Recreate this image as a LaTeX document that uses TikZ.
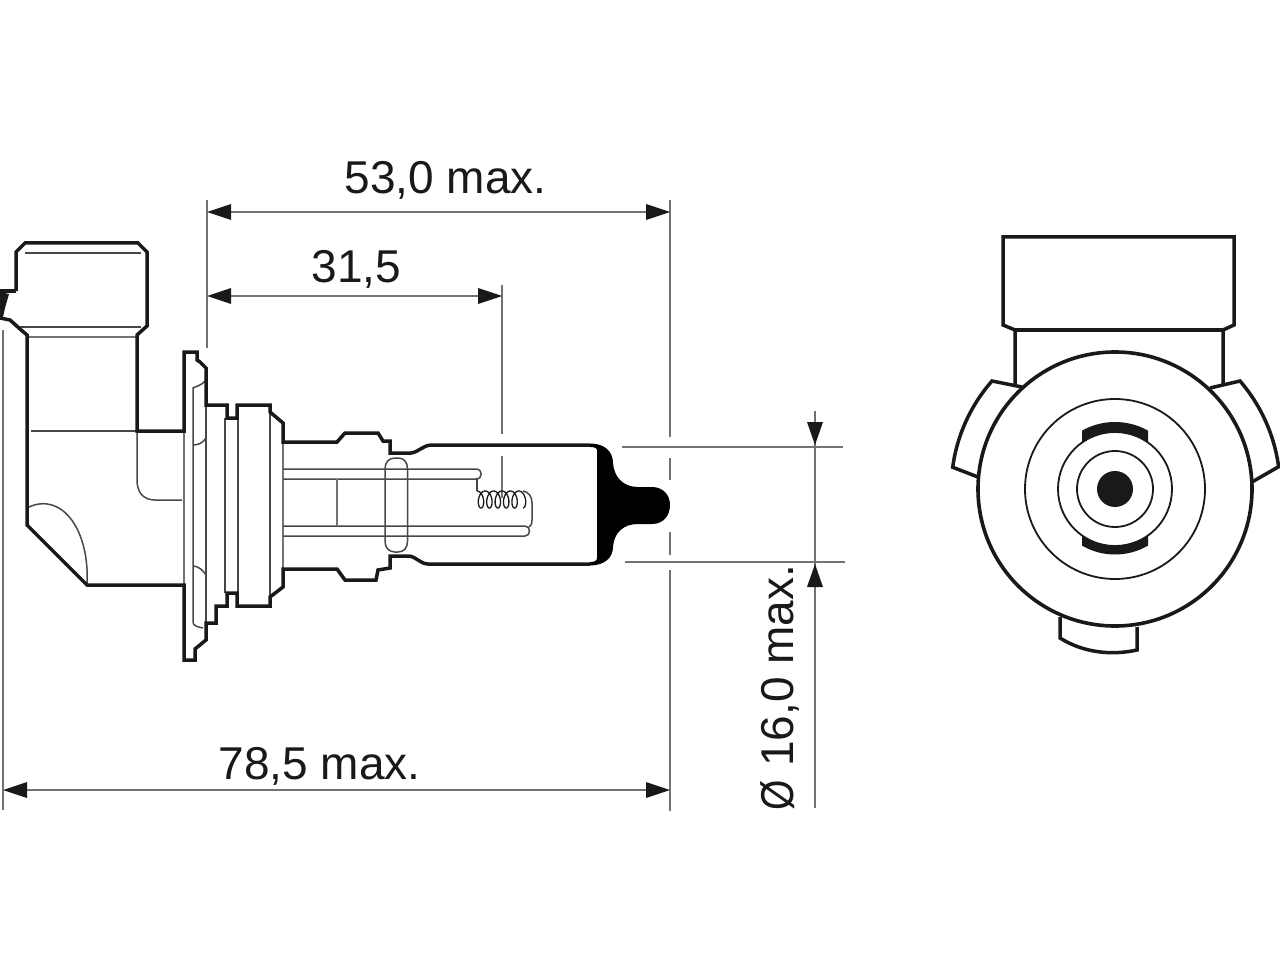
\documentclass[tikz,border=0pt]{standalone}
\usepackage{fontspec}
\usepackage{graphicx}
\setmainfont{Liberation Sans}
\definecolor{dimc}{gray}{0.45}
\definecolor{ink}{gray}{0.1}
\tikzset{
  outl/.style={draw=ink,line width=3.5pt,line join=miter,line cap=butt},
  fine/.style={draw=ink!80!white,line width=1.5pt},
  faint/.style={draw=dimc,line width=1.6pt},
  dimline/.style={draw=dimc,line width=1.8pt},
  lbl/.style={text=ink,font=\fontsize{46pt}{47pt}\selectfont,inner sep=0pt,anchor=base},
  tip/.style={fill=ink,draw=none}
}
\begin{document}
\begin{tikzpicture}[x=1pt,y=-1pt]
\useasboundingbox (0,0) rectangle (1280,960);
\fill[white] (0,0) rectangle (1280,960);
% dimension lines
\coordinate (ext0t) at (3,330); \coordinate (ext0b) at (3,810);
\draw[dimline] (ext0t) -- (ext0b);
\draw[dimline] (207,200) -- (207,348);
\draw[dimline] (670,200) -- (670,437);
\draw[dimline] (670,458) -- (670,480);
\draw[dimline] (670,532) -- (670,555);
\draw[dimline] (670,570) -- (670,811);
\draw[dimline] (502,285) -- (502,434);
\draw[dimline] (502,456) -- (502,498);
\draw[dimline] (230,212) -- (647,212);
\draw[dimline] (230,296) -- (480,296);
\draw[dimline] (26,790) -- (647,790);
\draw[dimline] (622,447) -- (843,447);
\draw[dimline] (625,562) -- (845,562);
\draw[dimline] (815,411) -- (815,808);
% arrowheads
\fill[tip] (207,212) -- (231,204) -- (231,220) -- cycle;
\fill[tip] (670,212) -- (646,204) -- (646,220) -- cycle;
\fill[tip] (207,296) -- (231,288) -- (231,304) -- cycle;
\fill[tip] (502,296) -- (478,288) -- (478,304) -- cycle;
\fill[tip] (3,790) -- (27,782) -- (27,798) -- cycle;
\fill[tip] (670,790) -- (646,782) -- (646,798) -- cycle;
\fill[tip] (815,445) -- (807,422) -- (823,422) -- cycle;
\fill[tip] (815,564) -- (807,587) -- (823,587) -- cycle;
% labels
\node[lbl] (l53) at (445.5,194) {53,0 max.};
\node[lbl] (l31) at (356.5,283) {31,5};
\node[lbl] (l78) at (319.5,779) {78,5 max.};
\node[lbl,rotate=90] (l16) at (793,687.5) {\scalebox{0.85}[1]{Ø} 16,0 max.};
% fine interior of the lamp
\draw[fine] (25,253) -- (141,253);
\draw[fine] (20,327) -- (141,327);
\draw[faint] (27,337) -- (137,337);
\draw[fine] (31,431) -- (137,431);
\draw[fine] (137,431) -- (137,480) .. controls (137,492) and (143,500) .. (155,500) -- (182,500);
\draw[fine] (29,507) .. controls (62,492) and (90,530) .. (87,585);
\draw[faint] (184,431) -- (184,585);
\draw[fine] (193,387) -- (193,622) .. controls (193,626) and (198,627) .. (203,628);
\draw[fine] (193,388) .. controls (197,386) and (202,385) .. (205,381);
\draw[fine] (193,445) .. controls (198,445) and (203,443) .. (206,438);
\draw[fine] (193,566) .. controls (198,566) and (203,570) .. (206,575);
\draw[fine] (206,368) -- (206,623);
\draw[fine] (225,418) -- (225,593);
\draw[fine] (238,418) -- (238,593);
\draw[fine] (270,405) -- (270,597);
\draw[faint] (283,442) -- (283,568);
% filament supports
\draw[fine] (283,469) -- (476,469) .. controls (483,469) and (483,479) .. (476,479) -- (283,479);
\draw[fine] (283,526) -- (525,526) .. controls (531,526) and (531,536) .. (525,536) -- (283,536);
\draw[faint] (337,479) -- (337,526);
\draw[fine] (477,479) -- (477,491);
\draw[line width=1.3pt,draw=ink] plot[domain=-180:1800,samples=300] ({481+8.4*\x/360-4.6*sin(\x)},{499.5+8.5*cos(\x)});
\draw[fine] (523,491) .. controls (529,492) and (532,497) .. (532,503) -- (532,520) .. controls (532,524) and (531,526) .. (529,527);
\draw[fine] (385,469) .. controls (385,462) and (389,458) .. (395,458) -- (398,458) .. controls (404,458) and (407.5,462) .. (407.5,469) -- (407.5,541) .. controls (407.5,548) and (404,552) .. (398,552) -- (395,552) .. controls (389,552) and (385,548) .. (385,541) -- cycle;
% outline of the lamp
\draw[outl] (16,291) -- (16,252) -- (25,243) -- (138,243) -- (147,252) -- (147,326) -- (137,335) -- (137,431) -- (184,431) -- (184,352) -- (197,352) -- (197,360) -- (200,362) -- (206,368) -- (206,405) -- (227,405) -- (227,418) -- (237,418) -- (237,405) -- (270,405) -- (270,412) -- (283,423) -- (283,442) -- (337,442) -- (345,433) -- (378,433) -- (383,441) -- (390,441) -- (390,453) -- (411,453) .. controls (419,452) and (423,445) .. (432,445) -- (590,445);
\draw[outl] (590,564) -- (428,564) .. controls (420,564) and (416,556) .. (408,556) -- (390,556) -- (390,568) -- (378,570) -- (376,580) -- (345,580) -- (337,569) -- (283,569) -- (283,587) -- (270,597) -- (270,606) -- (237,606) -- (237,593) -- (227,593) -- (227,606) -- (216,606) -- (216,623) -- (206,623) -- (206,640) -- (195,649) -- (195,660) -- (184,660) -- (184,585) -- (87,585) -- (27,525) -- (27,335) -- (20,329) -- (10,320) -- (0,318);
\draw[outl] (0,291) -- (16,291);
\fill[ink] (0,292) -- (9,294) -- (5,308) -- (3,317) -- (0,317) -- cycle;
% bulb tip
\fill[black] (590,443.5) .. controls (604,443.5) and (613,451) .. (613,463) .. controls (614,477) and (623,487) .. (638,487) -- (652,487) .. controls (663,487) and (670,495) .. (670,505) .. controls (670,516) and (663,524) .. (652,524) -- (638,524) .. controls (623,524) and (614,533) .. (613,547) .. controls (613,558) and (604,565.5) .. (590,565.5) -- (590,562) .. controls (594,562) and (597,561) .. (597,558) -- (597,450) .. controls (597,448) and (594,447) .. (590,447) -- cycle;
% end view
\draw[outl] (1015,385) -- (1015,330) -- (1003,325) -- (1003,237) -- (1234,237) -- (1234,325) -- (1223,330) -- (1223,385);
\draw[outl] (1015,330) -- (1223,330);
\draw[outl] (1022,387) -- (992,381) arc[start angle=221.3,end angle=187.7,radius=164] -- (978,477);
\draw[outl] (1210,388) -- (1240,381) arc[start angle=-40.8,end angle=-7.7,radius=165] -- (1252,482);
\draw[outl] (1137,627) -- (1137,650) .. controls (1110,656) and (1082,652) .. (1060,638) -- (1060,617);
\draw[line width=3.6pt,draw=ink] (1115,489) circle[radius=137];
\begin{scope}
\clip (1082,410) rectangle (1148,470);
\fill[ink,even odd rule] (1115,489) circle[radius=67] (1115,489) circle[radius=57];
\end{scope}
\begin{scope}
\clip (1082,510) rectangle (1148,570);
\fill[ink,even odd rule] (1115,489) circle[radius=65.5] (1115,489) circle[radius=57];
\end{scope}
\draw[line width=1.8pt,draw=ink] (1115,489) circle[radius=90];
\draw[line width=1.8pt,draw=ink] (1115,489) circle[radius=57];
\draw[line width=1.8pt,draw=ink] (1115,489) circle[radius=38];
\fill[ink] (1115,489) circle[radius=18];
\end{tikzpicture}
\end{document}
